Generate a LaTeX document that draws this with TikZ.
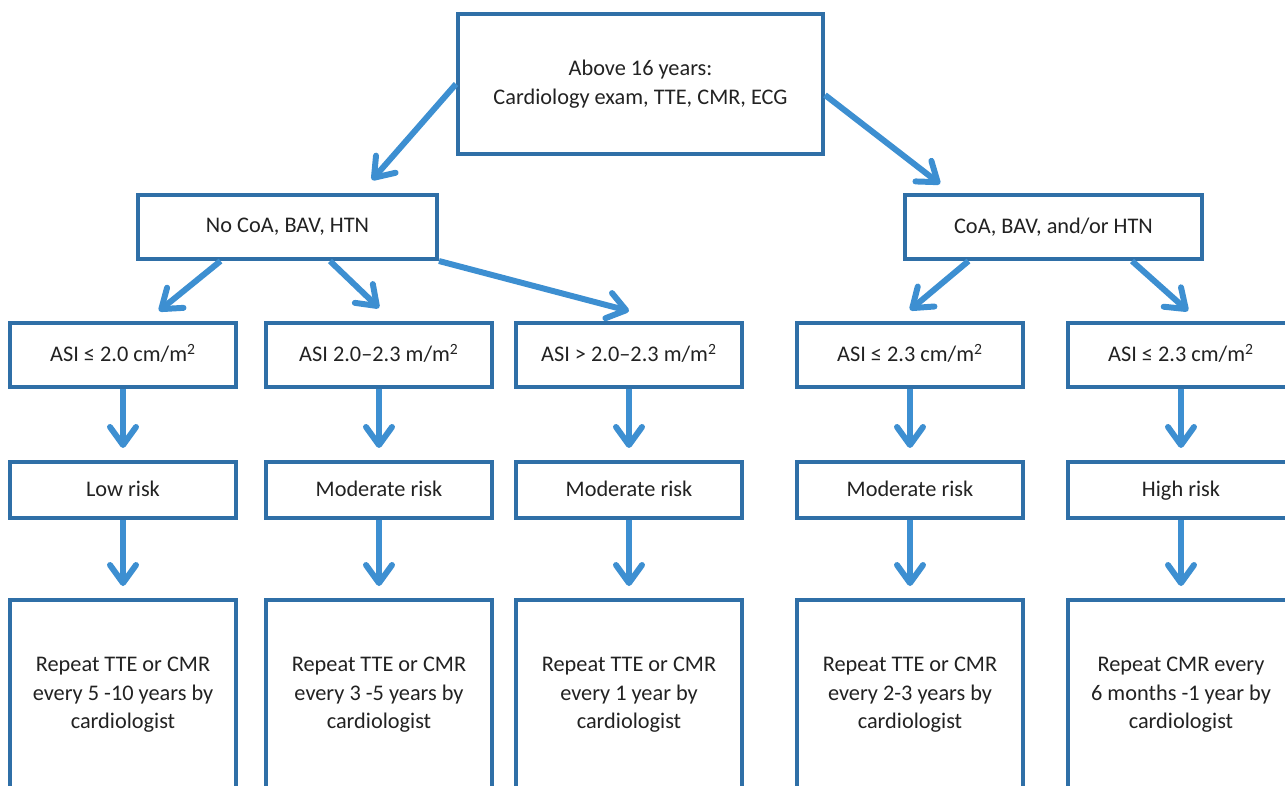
\documentclass[tikz,border=0pt]{standalone}
\usepackage{fontspec}
\setmainfont{Carlito}
\usetikzlibrary{arrows.meta}
\definecolor{frame}{HTML}{2F6FA7}
\definecolor{flow}{HTML}{3D8FD1}
\definecolor{ink}{HTML}{222222}

\begin{document}
\begin{tikzpicture}[x=0.02cm,y=-0.02cm,
  font=\fontsize{12.7}{16.3}\selectfont,text=ink,
  box/.style={draw=frame,line width=2.3pt,fill=white,align=center,
    inner sep=0pt,minimum width=4.52cm},
  riskbox/.style={box,minimum height=1.12cm,text height=1.6ex,text depth=0ex},
  asibox/.style={box,minimum height=1.28cm,text height=1.6ex,text depth=0ex},
  planbox/.style={box,minimum height=3.8cm},
  go/.style={draw=flow,line width=3.4pt,
    -{Straight Barb[length=0.36cm,width=0.52cm,round]}},
  godown/.style={go,shorten >=0.24cm}]
  \useasboundingbox (0,0) rectangle (1285,785);
  \clip (0,0) rectangle (1285,785);

  \node[box,minimum width=7.3cm,minimum height=2.8cm] (top) at (640.5,84)
    {Above 16 years:\\Cardiology exam, TTE, CMR, ECG};

  \node[box,minimum width=5.98cm,minimum height=1.28cm] (nocoa) at (287.5,227)
    {No CoA, BAV, HTN};
  \node[box,minimum width=5.94cm,minimum height=1.28cm] (coa) at (1053.5,227)
    {CoA, BAV, and/or HTN};

  % ASI row
  \node[asibox] (asiA) at (123,355) {ASI ≤ 2.0 cm/m\textsuperscript{2}};
  \node[asibox] (asiB) at (379,355) {ASI 2.0–2.3 m/m\textsuperscript{2}};
  \node[asibox] (asiC) at (629,355) {ASI > 2.0–2.3 m/m\textsuperscript{2}};
  \node[asibox] (asiD) at (910,355) {ASI ≤ 2.3 cm/m\textsuperscript{2}};
  \node[asibox] (asiE) at (1181,355) {ASI ≤ 2.3 cm/m\textsuperscript{2}};

  % risk row
  \node[riskbox] (riskA) at (123,490) {Low risk};
  \node[riskbox] (riskB) at (379,490) {Moderate risk};
  \node[riskbox] (riskC) at (629,490) {Moderate risk};
  \node[riskbox] (riskD) at (910,490) {Moderate risk};
  \node[riskbox] (riskE) at (1181,490) {High risk};

  % follow-up row
  \node[planbox] (planA) at (123,695)
    {Repeat TTE or CMR\\every 5 -10 years by\\cardiologist};
  \node[planbox] (planB) at (379,695)
    {Repeat TTE or CMR\\every 3 -5 years by\\cardiologist};
  \node[planbox] (planC) at (629,695)
    {Repeat TTE or CMR\\every 1 year by\\cardiologist};
  \node[planbox] (planD) at (910,695)
    {Repeat TTE or CMR\\every 2-3 years by\\cardiologist};
  \node[planbox] (planE) at (1181,695)
    {Repeat CMR every\\6 months -1 year by\\cardiologist};

  % arrows
  \draw[go] (top.west) -- ([xshift=1.69cm,yshift=0.26cm]nocoa.north);
  \draw[go] ([yshift=-0.22cm]top.east) -- ([xshift=-2.27cm,yshift=0.18cm]coa.north);
  \draw[go] ([xshift=-1.34cm]nocoa.south) -- ([xshift=0.72cm,yshift=0.2cm]asiA.north);
  \draw[go] ([xshift=0.85cm]nocoa.south) -- ([yshift=0.26cm]asiB.north);
  \draw[go] (nocoa.south east) -- ([yshift=0.2cm]asiC.north);
  \draw[go] ([xshift=-1.7cm]coa.south) -- ([yshift=0.22cm]asiD.north);
  \draw[go] ([xshift=1.57cm]coa.south) -- ([xshift=0.14cm,yshift=0.2cm]asiE.north);

  \draw[godown] (asiA) -- (riskA);
  \draw[godown] (asiB) -- (riskB);
  \draw[godown] (asiC) -- (riskC);
  \draw[godown] (asiD) -- (riskD);
  \draw[godown] (asiE) -- (riskE);
  \draw[godown] (riskA) -- (planA);
  \draw[godown] (riskB) -- (planB);
  \draw[godown] (riskC) -- (planC);
  \draw[godown] (riskD) -- (planD);
  \draw[godown] (riskE) -- (planE);
\end{tikzpicture}
\end{document}
